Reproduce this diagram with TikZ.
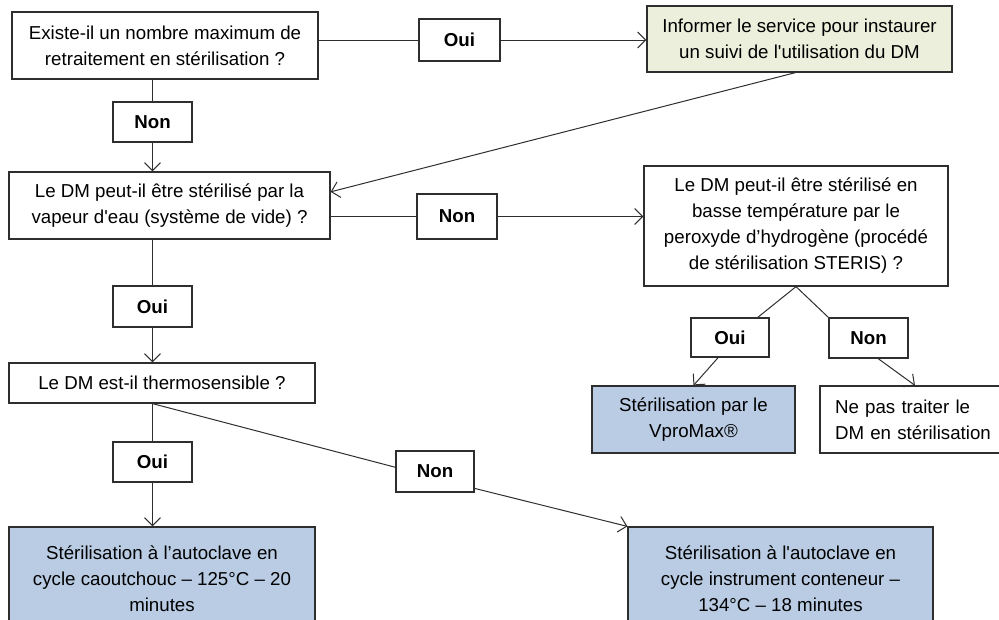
\documentclass[tikz,border=0pt]{standalone}
\usepackage{fontspec}
\setmainfont{Liberation Sans}
\usetikzlibrary{arrows.meta,calc}
\definecolor{boxgreen}{HTML}{EBEFDB}
\definecolor{boxblue}{HTML}{B9CCE4}
\definecolor{edge}{HTML}{2E2E2E}
\begin{document}
\begin{tikzpicture}[x=1pt,y=-1pt,
  box/.style={draw=edge,line width=1.2pt,align=center,inner sep=0pt,
    font=\fontsize{18.7}{26}\selectfont},
  lbl/.style={draw=edge,line width=1.2pt,inner sep=0pt,
    font=\fontsize{18.7}{26}\selectfont\bfseries},
  conn/.style={draw=edge,line width=1pt},
  arr/.style={conn,-{Straight Barb[length=8pt,width=16pt,line width=1pt]}}]
\useasboundingbox (0,0) rectangle (999,619);
% question boxes
\node[box,minimum width=306pt,minimum height=67pt] (q1) at (165,45.5)
  {Existe-il un nombre maximum de\\retraitement en stérilisation ?};
\node[box,fill=boxgreen,minimum width=305pt,minimum height=66pt] (info) at (799.5,39)
  {Informer le service pour instaurer\\un suivi de l\textquotesingle utilisation du DM};
\node[box,minimum width=321pt,minimum height=67pt] (q2) at (169.5,205.5)
  {Le DM peut-il être stérilisé par la\\vapeur d\textquotesingle eau (système de vide) ?};
\node[box,minimum width=304pt,minimum height=120pt] (q3) at (796,226)
  {Le DM peut-il être stérilisé en\\basse température par le\\peroxyde d’hydrogène (procédé\\de stérilisation STERIS) ?};
\node[box,minimum width=306pt,minimum height=40pt] (q4) at (162,383)
  {Le DM est-il thermosensible ?};
\node[box,fill=boxblue,minimum width=306pt,minimum height=103pt] (r1) at (162,578.5)
  {Stérilisation à l’autoclave en\\cycle caoutchouc – 125°C – 20\\minutes};
\node[box,fill=boxblue,minimum width=305pt,minimum height=103pt] (r2) at (780.5,578.5)
  {Stérilisation à l\textquotesingle autoclave en\\cycle instrument conteneur –\\134°C – 18 minutes};
\node[box,fill=boxblue,minimum width=203pt,minimum height=67pt] (r3) at (693.5,419.5)
  {\raisebox{-3pt}{\parbox{200pt}{\centering Stérilisation par le\\VproMax®}}};
\node[box,align=left,minimum width=190pt,minimum height=67pt,text width=160pt] (r4) at (915,419.5)
  {\raisebox{-3pt}{\parbox{160pt}{\raggedright Ne pas traiter le\\DM en stérilisation}}};
% answer labels
\node[lbl,minimum width=81pt,minimum height=42pt] (oui1) at (459.5,40) {Oui};
\node[lbl,minimum width=79pt,minimum height=40pt] (non1) at (152.5,122) {Non};
\node[lbl,minimum width=80pt,minimum height=45pt] (non2) at (457,216.5) {Non};
\node[lbl,minimum width=79pt,minimum height=41pt] (oui2) at (152.5,306.5) {Oui};
\node[lbl,minimum width=79pt,minimum height=40pt] (oui3) at (152.5,462) {Oui};
\node[lbl,minimum width=78pt,minimum height=41pt] (non3) at (435,471.5) {Non};
\node[lbl,minimum width=78pt,minimum height=39pt] (oui4) at (730,337.5) {Oui};
\node[lbl,minimum width=79pt,minimum height=40pt] (non4) at (868.5,338) {Non};
% connectors
\draw[conn] (oui1.west -| q1.east) -- (oui1.west);
\draw[arr] (oui1.east) -- (oui1.east -| info.west);
\draw[conn] (non1.north |- q1.south) -- (non1.north);
\draw[arr] (non1.south) -- (non1.south |- q2.north);
\draw[arr] ($(info.south west)!0.487!(info.south east)$) -- ($(q2.north east)!0.3!(q2.south east)$);
\draw[conn] (non2.west -| q2.east) -- (non2.west);
\draw[arr] (non2.east) -- (non2.east -| q3.west);
\draw[conn] (oui2.north |- q2.south) -- (oui2.north);
\draw[arr] (oui2.south) -- (oui2.south |- q4.north);
\draw[conn] (oui3.north |- q4.south) -- (oui3.north);
\draw[arr] (oui3.south) -- (oui3.south |- r1.north);
\draw[conn] (oui3.north |- q4.south) -- ($(non3.north west)!0.4!(non3.south west)$);
\draw[arr] ($(non3.north east)!0.9!(non3.south east)$) -- (r2.north west);
\draw[conn] (q3.south) -- ($(oui4.north west)!0.85!(oui4.north east)$);
\draw[conn] (q3.south) -- (non4.north west);
\draw[arr] ($(oui4.south west)!0.35!(oui4.south east)$) -- (r3.north);
\draw[arr] ($(non4.south west)!0.62!(non4.south east)$) -- (r4.north);
\end{tikzpicture}
\end{document}
